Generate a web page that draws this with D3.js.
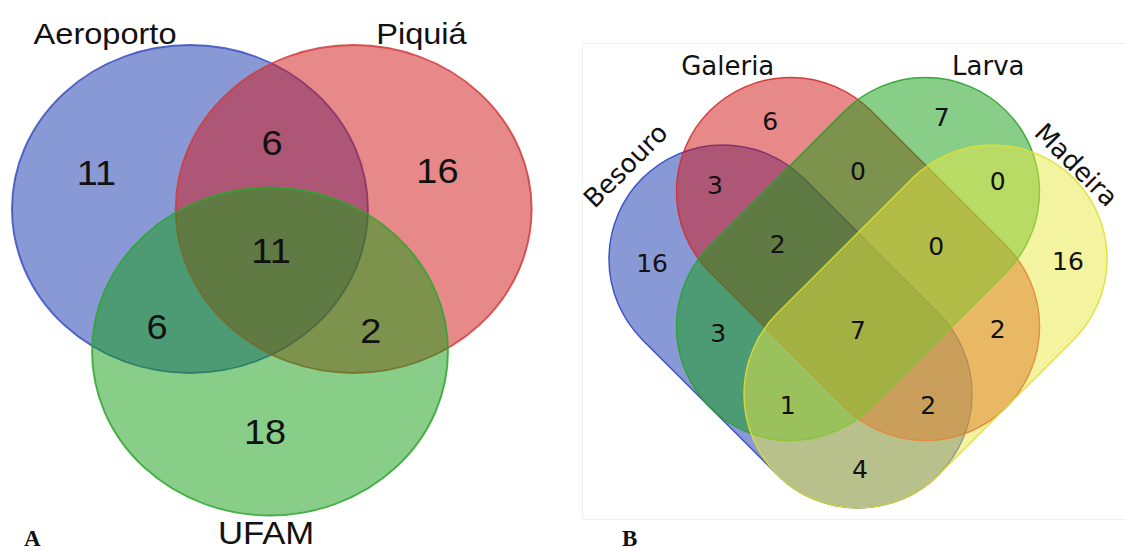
<!DOCTYPE html>
<html><head><meta charset="utf-8">
<script src="https://cdn.jsdelivr.net/npm/d3@7"></script>
<style>html,body{margin:0;padding:0;background:#fff;} svg{display:block;}</style>
</head><body>
<svg id="chart" width="1126" height="551"></svg>
<script>
// ---------- DATA ----------
// Panel A (3 sets)
const setsA = ["Aeroporto", "Piquiá", "UFAM"];
const regionsA = ["A", "P", "U", "AP", "AU", "PU", "APU"];
const countsA = [11, 16, 18, 6, 6, 2, 11];
// Panel B (4 sets)
const setsB = ["Besouro", "Galeria", "Larva", "Madeira"];
const regionsB = ["B", "G", "L", "M", "BG", "GL", "LM", "BM", "BL", "GM", "BGL", "GLM", "BLM", "BGM", "BGLM"];
const countsB = [16, 6, 7, 16, 3, 0, 0, 4, 3, 2, 2, 0, 1, 2, 7];
const panelLetters = ["A", "B"];

// ---------- LAYOUT (geometry in diagram units) ----------
const colorsA = ["#1333ad", "#d11313", "#119d11"];
const colorsB = ["#1333ad", "#d11313", "#119d11", "#e7e741"];
const strokeA = ["#3a4fc0", "#d23c3c", "#30a530"];
const strokeB = ["#2a44c4", "#d42e2e", "#2aa22a", "#dede30"];
// circles of panel A, unit = radius
const circA = [[-0.460, 0], [0.460, 0], [-0.010, 0.869]];
const setLabelPosA = [[-0.937, -1.007, 30], [0.841, -1.006, 30], [-0.032, 2.043, 32]];
const regionPosA = {A: [-0.986, -0.226], P: [0.931, -0.238], U: [-0.038, 1.357], AP: [0.001, -0.409],
  AU: [-0.645, 0.713], PU: [0.557, 0.738], APU: [-0.004, 0.250]};
// stadiums of panel B, unit = u
const stadB = [[[-2, -2], [0, 0]], [[-1, -3], [1, -1]], [[1, -3], [-1, -1]], [[2, -2], [0, 0]]];
const stadR = 1.69;
const setLabelPosB = [[-3.35, -3.29, -45], [-1.93, -4.726, 0], [1.93, -4.726, 0], [3.14, -3.30, 45]];
const regionPosB = {B: [-3.05, -1.94], G: [-1.30, -4.04], L: [1.24, -4.10], M: [3.11, -1.97],
  BG: [-2.12, -3.10], GL: [0, -3.30], LM: [2.07, -3.16], BM: [0.03, 1.11], BL: [-2.07, -0.90],
  GM: [2.07, -0.96], BGL: [-1.19, -2.22], GLM: [1.16, -2.19], BLM: [-1.04, 0.16], BGM: [1.04, 0.16],
  BGLM: [0, -0.95]};

const svg = d3.select("#chart");

// ---------- PANEL A ----------
const kx = 1.085;
const RA = 164;
const xA = d3.scaleLinear().domain([0, 1]).range([250.5, 250.5 + RA]);
const yA = d3.scaleLinear().domain([0, 1]).range([209, 209 + RA]);
const gA = svg.append("g").attr("transform", `scale(${kx},1)`);
gA.selectAll("circle").data(circA).join("circle")
  .attr("cx", d => xA(d[0])).attr("cy", d => yA(d[1]))
  .attr("r", xA(1) - xA(0))
  .attr("fill", (d, i) => colorsA[i]).attr("fill-opacity", 0.5)
  .attr("stroke", (d, i) => strokeA[i]).attr("stroke-width", 1.8).attr("stroke-opacity", 0.85);
gA.selectAll("text.set").data(setsA).join("text").attr("class", "set")
  .attr("x", (d, i) => xA(setLabelPosA[i][0])).attr("y", (d, i) => yA(setLabelPosA[i][1]))
  .attr("text-anchor", "middle")
  .style("font-family", "'Liberation Sans', Arial, sans-serif").style("font-size", (d, i) => setLabelPosA[i][2] + "px")
  .attr("fill", "#111").text(d => d);
gA.selectAll("text.num").data(regionsA).join("text").attr("class", "num")
  .attr("x", d => xA(regionPosA[d][0])).attr("y", d => yA(regionPosA[d][1]))
  .attr("dy", "0.36em").attr("text-anchor", "middle")
  .style("font-family", "'Liberation Sans', Arial, sans-serif").style("font-size", "35px")
  .attr("fill", "#111").text((d, i) => countsA[i]);

// ---------- PANEL B ----------
svg.append("rect").attr("x", 582.5).attr("y", 43.5).attr("width", 545).attr("height", 476)
  .attr("fill", "none").attr("stroke", "#f0f0f0").attr("stroke-width", 1);
const U = 67.5;
const xB = d3.scaleLinear().domain([0, 1]).range([858, 858 + U]);
const yB = d3.scaleLinear().domain([0, 1]).range([394, 394 + U]);
function stadium(c1, c2, r) {
  const dx = c2[0] - c1[0], dy = c2[1] - c1[1], L = Math.hypot(dx, dy);
  const ux = dx / L, uy = dy / L, nx = -uy, ny = ux;
  const a = Math.atan2(ny, nx);
  const p = d3.path();
  p.moveTo(c1[0] + r * nx, c1[1] + r * ny);
  p.lineTo(c2[0] + r * nx, c2[1] + r * ny);
  p.arc(c2[0], c2[1], r, a, a - Math.PI, true);
  p.lineTo(c1[0] - r * nx, c1[1] - r * ny);
  p.arc(c1[0], c1[1], r, a - Math.PI, a - 2 * Math.PI, true);
  p.closePath();
  return p.toString();
}
const gB = svg.append("g");
gB.selectAll("path").data(stadB).join("path")
  .attr("d", d => stadium([xB(d[0][0]), yB(d[0][1])], [xB(d[1][0]), yB(d[1][1])], xB(stadR) - xB(0)))
  .attr("fill", (d, i) => colorsB[i]).attr("fill-opacity", 0.5)
  .attr("stroke", (d, i) => strokeB[i]).attr("stroke-width", 1.4).attr("stroke-opacity", 0.9);
gB.selectAll("text.set").data(setsB).join("text").attr("class", "set")
  .attr("transform", (d, i) => `translate(${xB(setLabelPosB[i][0])},${yB(setLabelPosB[i][1])}) rotate(${setLabelPosB[i][2]})`)
  .attr("text-anchor", "middle")
  .style("font-family", "'DejaVu Sans', sans-serif").style("font-size", "26px")
  .attr("fill", "#111").text(d => d);
gB.selectAll("text.num").data(regionsB).join("text").attr("class", "num")
  .attr("x", d => xB(regionPosB[d][0])).attr("y", d => yB(regionPosB[d][1]))
  .attr("dy", "0.36em").attr("text-anchor", "middle")
  .style("font-family", "'DejaVu Sans', sans-serif").style("font-size", "25px")
  .attr("fill", "#111").text((d, i) => countsB[i]);

// ---------- PANEL LETTERS ----------
svg.selectAll("text.panel").data(panelLetters).join("text").attr("class", "panel")
  .attr("x", (d, i) => i === 0 ? 24 : 622).attr("y", 546)
  .style("font-family", "'Liberation Serif', 'Times New Roman', serif").style("font-size", "23px")
  .style("font-weight", "bold").attr("fill", "#111").text(d => d);
</script>
</body></html>
